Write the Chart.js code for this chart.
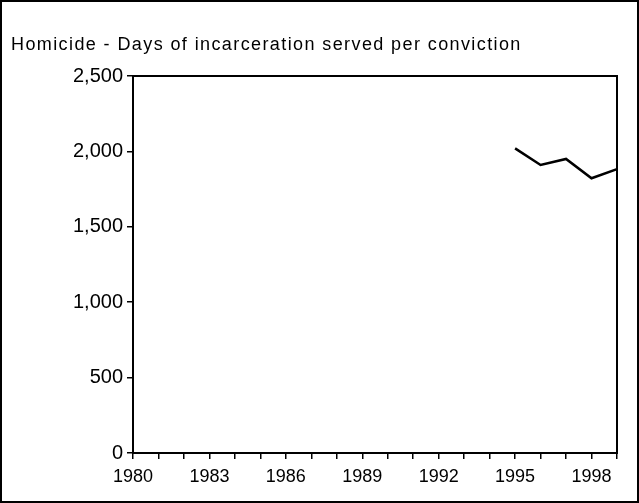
<!DOCTYPE html>
<html>
<head>
<meta charset="utf-8">
<script src="https://cdn.jsdelivr.net/npm/chart.js@4"></script>
<style>
  html, body { margin: 0; padding: 0; background: #fff; }
  #wrap { width: 639px; height: 503px; }
</style>
</head>
<body>
<div id="wrap"><canvas id="chart" width="639" height="503"></canvas></div>
<script>
const title = 'Homicide - Days of incarceration served per conviction';
const years = ['1980', '1981', '1982', '1983', '1984', '1985', '1986', '1987', '1988', '1989',
    '1990', '1991', '1992', '1993', '1994', '1995', '1996', '1997', '1998', '1999'];
const days = [null, null, null, null, null, null, null, null, null, null,
    null, null, null, null, null, 2020, 1910, 1950, 1822, 1882];
const yTicks = [0, 500, 1000, 1500, 2000, 2500];

const family = 'Liberation Sans, Arial, sans-serif';

// frame around the plot, the page border and the title
const frame = {
    id: 'frame',
    afterDraw(chart) {
        const ctx = chart.ctx;
        const a = chart.chartArea;
        ctx.save();
        ctx.strokeStyle = '#000';
        ctx.lineWidth = 2;
        ctx.strokeRect(a.left, a.top, a.right - a.left, a.bottom - a.top);
        ctx.strokeRect(1, 1, chart.width - 2, chart.height - 2);
        ctx.fillStyle = '#000';
        ctx.font = '18px ' + family;
        ctx.letterSpacing = '1.4px';
        ctx.textBaseline = 'alphabetic';
        ctx.fillText(title, 11, 50);
        ctx.restore();
    }
};

new Chart(document.getElementById('chart').getContext('2d'), {
    type: 'line',
    data: {
        labels: years,
        datasets: [{
            label: title,
            data: days,
            borderColor: '#000',
            borderWidth: 2.5,
            pointRadius: 0,
            tension: 0
        }]
    },
    options: {
        responsive: false,
        animation: false,
        layout: { padding: { top: 76, right: 22, left: 0, bottom: 0 } },
        plugins: { legend: { display: false }, tooltip: { enabled: false } },
        scales: {
            x: {
                type: 'category',
                offset: false,
                grid: { drawOnChartArea: false, tickLength: 6, color: '#000', lineWidth: 1.5 },
                border: { color: '#000', width: 2 },
                ticks: {
                    color: '#000', font: { family: family, size: 18 }, maxRotation: 0, autoSkip: false, padding: 7,
                    callback: (v, i) => (i % 3 === 0 ? years[i] : '')
                },
                afterFit: s => { s.height = 50; }
            },
            y: {
                min: 0, max: 2500,
                afterBuildTicks: s => { s.ticks = yTicks.map(v => ({ value: v })); },
                grid: { drawOnChartArea: false, tickLength: 6, color: '#000', lineWidth: 1.5 },
                border: { color: '#000', width: 2 },
                ticks: {
                    color: '#000', font: { family: family, size: 20 }, padding: 4,
                    callback: v => v.toLocaleString('en-US')
                },
                afterFit: s => { s.width = 133; }
            }
        }
    },
    plugins: [frame]
});
</script>
</body>
</html>
